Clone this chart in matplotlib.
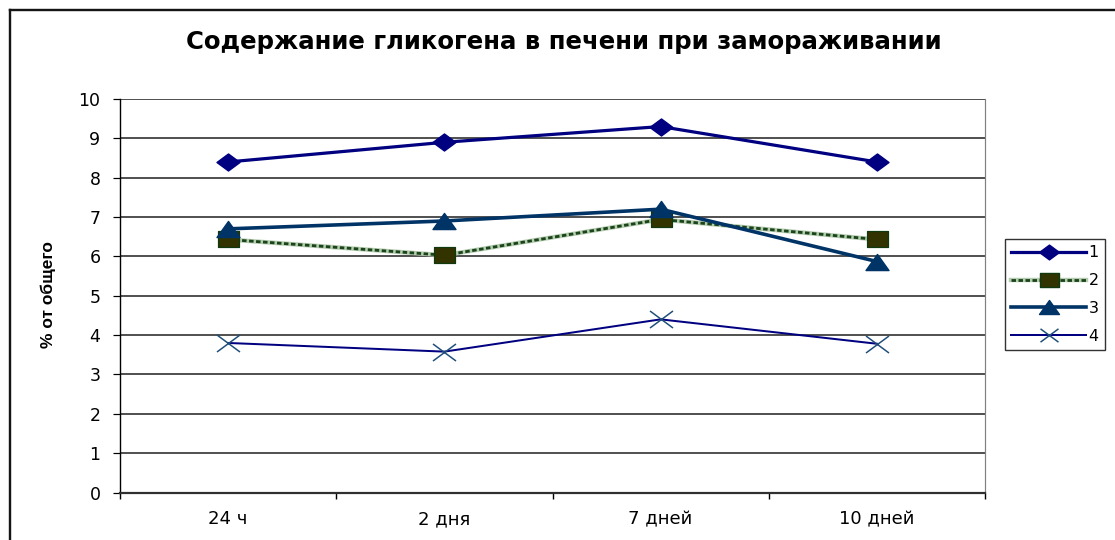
import matplotlib
matplotlib.use("Agg")
import matplotlib.pyplot as plt
from matplotlib.path import Path
from matplotlib.lines import Line2D
import numpy as np

# ---- data ----
categories = ["24 ч", "2 дня", "7 дней", "10 дней"]
series_names = ["1", "2", "3", "4"]
s1 = [8.4, 8.9, 9.3, 8.4]
s2 = [6.43, 6.03, 6.94, 6.43]
s3 = [6.7, 6.9, 7.2, 5.87]
s4 = [3.8, 3.58, 4.4, 3.78]
y_ticks = list(range(0, 11))

W, H, DPI = 1115, 540, 100
px = 72.0 / DPI  # points per pixel

plt.rcParams["font.family"] = ["DejaVu Sans"]

fig = plt.figure(figsize=(W / DPI, H / DPI), dpi=DPI)
fig.patch.set_facecolor("white")

# plot area in pixel coordinates
L, R, T, B = 120, 985, 99, 492.5
ax = fig.add_axes([L / W, 1 - B / H, (R - L) / W, (B - T) / H])

x = np.arange(len(categories))

# wide markers
diamond = Path([(-1, 0), (0, 0.74), (1, 0), (0, -0.74), (-1, 0)],
               [Path.MOVETO, Path.LINETO, Path.LINETO, Path.LINETO, Path.CLOSEPOLY])
square = Path([(-1, -0.72), (1, -0.72), (1, 0.72), (-1, 0.72), (-1, -0.72)],
              [Path.MOVETO, Path.LINETO, Path.LINETO, Path.LINETO, Path.CLOSEPOLY])
triangle = Path([(-1, -0.7), (0, 0.7), (1, -0.7), (-1, -0.7)],
                [Path.MOVETO, Path.LINETO, Path.LINETO, Path.CLOSEPOLY])
cross = Path([(-1, -0.74), (1, 0.74), (-1, 0.74), (1, -0.74)],
             [Path.MOVETO, Path.LINETO, Path.MOVETO, Path.LINETO])

ax.plot(x, s1, color="#000080", lw=3.2 * px, marker=diamond, ms=23 * px,
        mfc="#000080", mec="#000080", zorder=5)

# series 2: patterned green line drawn as light base + dark dashes
ax.plot(x, s2, color="#b5ccb0", lw=4.4 * px, solid_capstyle="butt", zorder=4)
ax.plot(x, s2, color="#1a441a", lw=2.8 * px, ls=(0, (1.6, 0.9)),
        dash_capstyle="butt", zorder=4)
ax.plot(x, s2, ls="none", marker=square, ms=21 * px, mfc="#333300",
        mec="#0f3a0f", mew=1.2 * px, zorder=4)

ax.plot(x, s3, color="#003366", lw=3.6 * px, marker=triangle, ms=23 * px,
        mfc="#003366", mec="#003366", zorder=6)

ax.plot(x, s4, color="#000080", lw=2.0 * px, marker=cross, ms=23 * px,
        mec="#1f4e79", mew=1.5 * px, zorder=3)

# axes
ax.set_xlim(-0.5, len(categories) - 0.5)
ax.set_ylim(0, 10)
ax.set_yticks(y_ticks)
ax.set_yticklabels([str(v) for v in y_ticks])
ax.yaxis.grid(True, color="#404040", lw=1.8 * px)
ax.set_axisbelow(True)

ax.set_xticks(np.arange(-0.5, len(categories), 1.0))
ax.set_xticklabels([])
ax.set_xticks(x, minor=True)
ax.set_xticklabels(categories, minor=True)
ax.tick_params(axis="x", which="major", direction="out", length=6 * px,
               width=1.4 * px, color="black")
ax.tick_params(axis="x", which="minor", length=0, pad=12.5, labelsize=13)
ax.tick_params(axis="y", direction="out", length=7 * px, width=1.2 * px,
               pad=9, labelsize=12.5)

ax.spines["top"].set_visible(False)
ax.spines["right"].set_color("#808080")
ax.spines["right"].set_linewidth(1.2 * px)
ax.spines["left"].set_color("black")
ax.spines["left"].set_linewidth(1.4 * px)
ax.spines["bottom"].set_color("#303030")
ax.spines["bottom"].set_linewidth(2.2 * px)

# title and axis label
fig.text(564 / W, 1 - 49 / H, "Содержание гликогена в печени при замораживании",
         ha="center", va="baseline", fontsize=17.6, fontweight="bold")
fig.text(48 / W, 1 - 295 / H, "% от общего", rotation=90, ha="center",
         va="center", fontsize=12.5, fontweight="bold",
         family=["Liberation Sans", "DejaVu Sans"])

# legend
handles = [
    Line2D([], [], color="#000080", lw=3.2 * px, marker=diamond, ms=20 * px,
           mfc="#000080", mec="#000080"),
    (Line2D([], [], color="#b5ccb0", lw=4.4 * px),
     Line2D([], [], color="#1a441a", lw=2.8 * px, ls=(0, (1.6, 0.9))),
     Line2D([], [], ls="none", marker=square, ms=19 * px, mfc="#333300",
            mec="#0f3a0f")),
    Line2D([], [], color="#003366", lw=3.6 * px, marker=triangle, ms=20 * px,
           mfc="#003366", mec="#003366"),
    Line2D([], [], color="#000080", lw=2.0 * px, marker=cross, ms=18 * px,
           mec="#1f4e79", mew=1.5 * px),
]
leg = fig.legend(handles, series_names, loc="upper left",
                 bbox_to_anchor=(1005 / W, 1 - 239 / H), borderaxespad=0,
                 fontsize=11.5, handlelength=4.7, handletextpad=0.12,
                 labelspacing=0.8, borderpad=0.4, fancybox=False,
                 frameon=True, edgecolor="black")
leg.get_frame().set_linewidth(1.4 * px)

# outer chart frame (left and top edges)
fig.add_artist(Line2D([10 / W, 10 / W], [0, 1 - 10 / H], color="#151515",
                      lw=2.4 * px, transform=fig.transFigure))
fig.add_artist(Line2D([10 / W, 1], [1 - 10 / H, 1 - 10 / H], color="#151515",
                      lw=2.4 * px, transform=fig.transFigure))

fig.savefig("out.png", dpi=DPI, facecolor="white")
